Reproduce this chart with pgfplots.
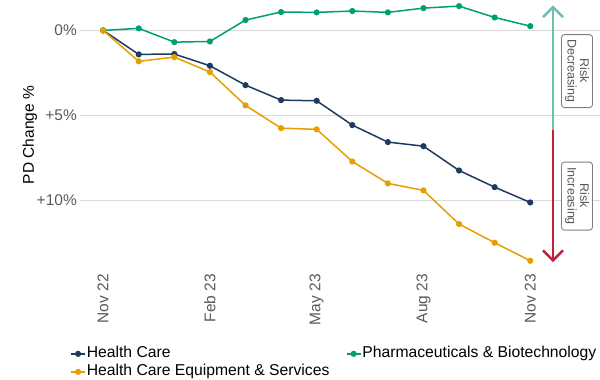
\documentclass[border=0pt]{standalone}
\usepackage{pgfplots}
\pgfplotsset{compat=1.18}
\usetikzlibrary{arrows.meta}
\usepackage{fontspec}
\setmainfont{Liberation Sans}

\definecolor{hc}{HTML}{1F3A60}
\definecolor{hces}{HTML}{E69F00}
\definecolor{pharma}{HTML}{009E73}
\definecolor{tickgray}{HTML}{595959}
\definecolor{gridgray}{HTML}{D9D9D9}
\definecolor{upcol}{HTML}{6ABFB0}
\definecolor{downcol}{HTML}{C41E3A}

\begin{document}
\begin{tikzpicture}[font=\fontsize{15.5bp}{18bp}\selectfont]
\begin{axis}[
    scale only axis,
    width=520bp, height=260.1bp,
    xmin=-0.65, xmax=13.96,
    ymin=-1.5, ymax=13.8,
    y dir=reverse,
    clip=false,
    axis line style={draw=none},
    tick style={draw=none},
    xtick={0,3,6,9,12},
    xticklabels={Nov 22,Feb 23,May 23,Aug 23,Nov 23},
    ytick={0,5,10},
    yticklabels={0\%,+5\%,+10\%},
    ymajorgrids,
    grid style={gridgray, line width=0.8bp},
    tick label style={tickgray},
    yticklabel style={anchor=east, inner sep=0pt, xshift=-3bp},
    xticklabel style={anchor=east, inner sep=0pt, yshift=-9bp, rotate=90},
    ylabel={PD Change \%},
    y label style={at={(axis description cs:-0.0962,0.5)}, anchor=center},
    /pgf/number format/assume math mode=true,
    legend columns=2,
    legend cell align=left,
    legend style={draw=none, fill=none, inner sep=0pt,
        font=\fontsize{15.7bp}{18bp}\selectfont,
        at={(axis description cs:-0.019,-0.31)}, anchor=north west,
        nodes={inner sep=1bp, text height=11bp, text depth=3bp},
        row sep=2bp,
        /tikz/every even column/.append style={column sep=15.5bp}},
    legend image code/.code={\draw[mark repeat=2, mark phase=2] plot coordinates {(0bp,0bp) (7bp,0bp) (14bp,0bp)};},
    every axis plot/.append style={line width=1.5bp, mark=*, mark size=2.3bp},
]
\addplot[hc, mark options={fill=hc}] coordinates {
(0,0) (1,1.41) (2,1.39) (3,2.08) (4,3.22) (5,4.10) (6,4.14)
(7,5.57) (8,6.57) (9,6.81) (10,8.24) (11,9.22) (12,10.12)};
\addlegendentry{Health Care}
\addplot[pharma, mark options={fill=pharma}] coordinates {
(0,0) (1,-0.12) (2,0.69) (3,0.65) (4,-0.61) (5,-1.08) (6,-1.06)
(7,-1.14) (8,-1.06) (9,-1.31) (10,-1.43) (11,-0.76) (12,-0.25)};
\addlegendentry{Pharmaceuticals \& Biotechnology}
\addplot[hces, mark options={fill=hces}] coordinates {
(0,0) (1,1.82) (2,1.57) (3,2.45) (4,4.41) (5,5.75) (6,5.82)
(7,7.71) (8,9.00) (9,9.41) (10,11.39) (11,12.49) (12,13.55)};
\addlegendentry{Health Care Equipment \& Services}

\draw[upcol, line width=2.5bp, -{Straight Barb[length=10bp, width=20bp, line width=2.5bp]}]
    (axis description cs:0.9096,0.519) -- (axis description cs:0.9096,0.998);
\draw[downcol, line width=2.5bp, -{Straight Barb[length=10bp, width=20bp, line width=2.5bp]}]
    (axis description cs:0.9096,0.519) -- (axis description cs:0.9096,0.011);
\node[draw=gray, fill=white, rounded corners=3bp, line width=0.9bp, text=tickgray,
      font=\fontsize{12.5bp}{12.5bp}\selectfont, align=center, inner sep=3bp,
      rotate=-90, minimum width=73bp, minimum height=31bp]
    at (axis description cs:0.9558,0.7456) {Risk\\Decreasing};
\node[draw=gray, fill=white, rounded corners=3bp, line width=0.9bp, text=tickgray,
      font=\fontsize{12.5bp}{12.5bp}\selectfont, align=center, inner sep=3bp,
      rotate=-90, minimum width=68bp, minimum height=31bp]
    at (axis description cs:0.9558,0.265) {Risk\\Increasing};
\end{axis}
\pgfresetboundingbox
\useasboundingbox (-80bp,-115bp) rectangle (520bp,265bp);
\end{tikzpicture}
\end{document}
